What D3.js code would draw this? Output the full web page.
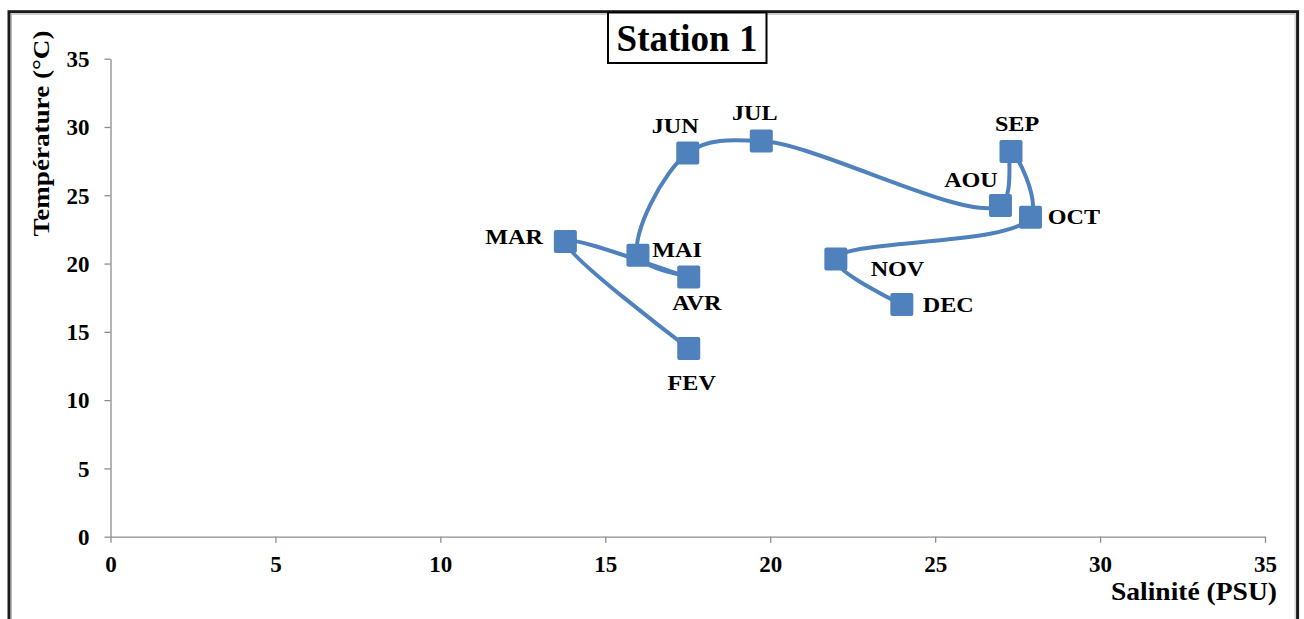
<!DOCTYPE html>
<html>
<head>
<meta charset="utf-8">
<script src="https://cdn.jsdelivr.net/npm/d3@7"></script>
<style>
  body { margin: 0; background: #fff; }
  svg text { font-family: "Liberation Serif", "Times New Roman", serif; font-weight: bold; fill: #000; }
</style>
</head>
<body>
<div id="chart"></div>
<script>
const months = ["FEV", "MAR", "AVR", "MAI", "JUN", "JUL", "AOU", "SEP", "OCT", "NOV", "DEC"];
const salinity = [17.53, 13.79, 17.53, 15.99, 17.5, 19.73, 26.98, 27.3, 27.89, 21.99, 23.99];
const temperature = [13.78, 21.61, 19.01, 20.6, 28.1, 28.97, 24.26, 28.21, 23.39, 20.33, 17.01];
const xTicks = [0, 5, 10, 15, 20, 25, 30, 35];
const yTicks = [0, 5, 10, 15, 20, 25, 30, 35];

// label placement relative to the marker centre: dx, dy (baseline), anchor
const labelPos = {
  FEV: [3, 41.5, "middle"], MAR: [-22.5, 2, "end"], AVR: [8, 33, "middle"],
  MAI: [14.4, 1.4, "start"], JUN: [-12.5, -19.5, "middle"], JUL: [-6.5, -21, "middle"],
  AOU: [-29.5, -18, "middle"], SEP: [6, -20.6, "middle"], OCT: [17.3, 6.8, "start"],
  NOV: [34.8, 16.7, "start"], DEC: [21, 7.4, "start"]
};

const W = 1304, H = 619;
const margin = { top: 58.7, right: 39, bottom: 82.3, left: 110.5 };
const width = W - margin.left - margin.right;
const height = H - margin.top - margin.bottom;

const svg = d3.select("#chart").append("svg")
  .attr("width", W).attr("height", H);

// outer frame
svg.append("rect")
  .attr("x", 9).attr("y", 11.7).attr("width", 1288.6).attr("height", 640)
  .attr("fill", "none").attr("stroke", "#1a1a1a").attr("stroke-width", 3);
svg.append("rect")
  .attr("x", 11.5).attr("y", 14.2).attr("width", 1283.6).attr("height", 640)
  .attr("fill", "none").attr("stroke", "#bbb").attr("stroke-width", 1);

const g = svg.append("g").attr("transform", `translate(${margin.left},${margin.top})`);

const x = d3.scaleLinear().domain([0, 35]).range([0, width]);
const y = d3.scaleLinear().domain([0, 35]).range([height, 0]);

const gx = g.append("g")
  .attr("transform", `translate(0,${height})`)
  .call(d3.axisBottom(x).tickValues(xTicks).tickSize(6).tickSizeOuter(0));
const gy = g.append("g")
  .call(d3.axisLeft(y).tickValues(yTicks).tickSize(6).tickSizeOuter(0));

[gx, gy].forEach(a => {
  a.attr("font-family", null).attr("font-size", null);
  a.select(".domain").attr("stroke", "#8c8c8c").attr("stroke-width", 1.3);
  a.selectAll(".tick line").attr("stroke", "#8c8c8c").attr("stroke-width", 1.3);
  a.selectAll(".tick text").attr("font-size", 23).attr("fill", "#000");
});
gx.selectAll(".tick text").attr("y", 35.5).attr("dy", 0);
gy.selectAll(".tick text").attr("x", -21).attr("dy", "0.34em");

const data = months.map((m, i) => ({ m, s: salinity[i], t: temperature[i] }));

const line = d3.line()
  .x(d => x(d.s)).y(d => y(d.t))
  .curve(d3.curveCatmullRom.alpha(0.5));

g.append("path").datum(data)
  .attr("fill", "none").attr("stroke", "#4f81bd")
  .attr("stroke-width", 4).attr("stroke-linejoin", "round").attr("d", line);

const sz = 23;
g.selectAll("rect.pt").data(data).join("rect")
  .attr("class", "pt")
  .attr("x", d => x(d.s) - sz / 2).attr("y", d => y(d.t) - sz / 2)
  .attr("width", sz).attr("height", sz).attr("rx", 2)
  .attr("fill", "#4f81bd");

g.selectAll("text.lbl").data(data).join("text")
  .attr("class", "lbl")
  .attr("transform", d => `translate(${x(d.s) + labelPos[d.m][0]},${y(d.t) + labelPos[d.m][1]}) scale(1.15,1)`)
  .attr("text-anchor", d => labelPos[d.m][2])
  .attr("font-size", 21)
  .text(d => d.m);

// axis titles
svg.append("text")
  .attr("transform", "translate(48.5,133.5) rotate(-90) scale(1.13,1)")
  .attr("text-anchor", "middle").attr("font-size", 24)
  .text("Température (°C)");

svg.append("text")
  .attr("transform", "translate(1277,600) scale(1.06,1)")
  .attr("text-anchor", "end").attr("font-size", 26)
  .text("Salinité (PSU)");

// title box
svg.append("rect")
  .attr("x", 608).attr("y", 12.5).attr("width", 158.5).attr("height", 50.5)
  .attr("fill", "#fff").attr("stroke", "#000").attr("stroke-width", 2);
svg.append("text")
  .attr("x", 687).attr("y", 51)
  .attr("text-anchor", "middle").attr("font-size", 37)
  .text("Station 1");
</script>
</body>
</html>
